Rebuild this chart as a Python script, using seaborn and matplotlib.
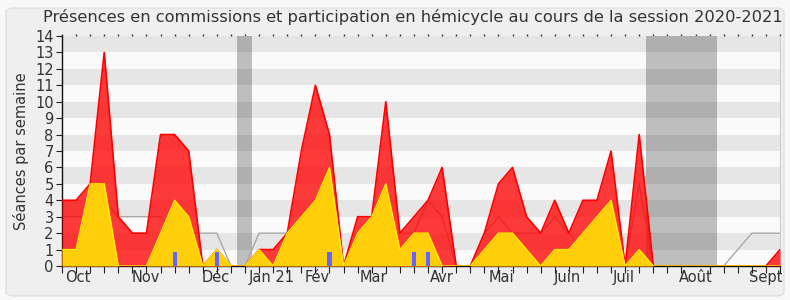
import matplotlib
matplotlib.use("Agg")
import matplotlib.pyplot as plt
import seaborn as sns
import numpy as np
from matplotlib.patches import FancyBboxPatch

# ---- data (one value per week, session 2020-2021) ----
weeks = list(range(52))
commission = [4, 4, 5, 13, 3, 2, 2, 8, 8, 7,
              0, 1, 0, 0, 1, 1, 2, 7, 11, 8,
              0, 3, 3, 10, 2, 3, 4, 6, 0, 0,
              2, 5, 6, 3, 2, 4, 2, 4, 4, 7,
              0, 8, 0, 0, 0, 0, 0, 0, 0, 0, 0, 1]
hemicycle = [1, 1, 5, 5, 0, 0, 0, 2, 4, 3,
             0, 1, 0, 0, 1, 0, 2, 3, 4, 6,
             0, 2, 3, 5, 1, 2, 2, 0, 0, 0,
             1, 2, 2, 1, 0, 1, 1, 2, 3, 4,
             0, 1, 0, 0, 0, 0, 0, 0, 0, 0, 0, 0]
mediane = [3, 3, 3, 4, 3, 3, 3, 3, 2, 2,
           2, 2, 0, 0, 2, 2, 2, 3, 4, 3,
           0, 2, 3, 2, 2, 2, 4, 3, 0, 0,
           2, 3, 2, 2, 2, 3, 2, 1, 2, 2,
           0, 5, 0, 0, 0, 0, 0, 0, 1, 2, 2, 2]
questions = [0] * 52
for w in (8, 11, 19, 25, 26):
    questions[w] = 1
month_labels = ["Oct", "Nov", "Déc", "Jan 21", "Fév", "Mar", "Avr",
                "Mai", "Juin", "Juil", "Août", "Sept"]
month_ticks = [1.1, 5.95, 10.95, 14.9, 18.1, 22.15, 26.95,
               31.2, 35.9, 39.9, 45.0, 49.95]
vacances = [(12.45, 13.5), (41.5, 46.5)]

sns.set_style("white")
plt.rcParams["font.family"] = ["DejaVu Sans"]

fig = plt.figure(figsize=(7.9, 3.0), dpi=100, facecolor="#f8f8f8")
fig.patches.append(FancyBboxPatch((6 / 790, 4 / 300), 778 / 790, 288 / 300,
                                  boxstyle="round,pad=0,rounding_size=0.012",
                                  transform=fig.transFigure, facecolor="#efefef",
                                  edgecolor="#e2e2e2", lw=1, zorder=-10))
ax = fig.add_axes([62 / 790, 34 / 300, 718 / 790, 230 / 300])
ax.set_facecolor("#fafafa")

for a, b in vacances:
    ax.axvspan(a, b, color="#bebebe", lw=0, zorder=0.5)
for k in range(1, 14, 2):
    ax.axhspan(k, k + 1, color="black", alpha=0.08, lw=0, zorder=0.6)

sns.lineplot(x=weeks, y=mediane, color="#a9a9a9", lw=1, ax=ax, zorder=2)
ax.fill_between(weeks, commission, color="#ff0000", alpha=0.77, lw=0, zorder=3)
sns.lineplot(x=weeks, y=commission, color="#ff0000", lw=1.2, ax=ax, zorder=3.1)
ax.fill_between(weeks, hemicycle, color="#ffd40a", alpha=0.97, lw=0, zorder=4)
sns.lineplot(x=weeks, y=hemicycle, color="#ffee00", lw=1, ax=ax, zorder=4.1)
ax.bar(weeks, np.array(questions) * 0.88, width=0.3, color="#6464ff",
       lw=0, zorder=5)

ax.set_xlim(0, 51)
ax.set_ylim(0, 14)
ax.set_yticks(range(15))
ax.tick_params(axis="y", which="major", length=4, width=0.8, color="#222",
               labelsize=10.5, labelcolor="#333", pad=2, left=True)
ax.set_xticks(month_ticks)
ax.set_xticklabels(month_labels)
ax.set_xticks(weeks, minor=True)
ax.tick_params(axis="x", which="major", length=0, labelsize=10.5,
               labelcolor="#333", pad=3)
ax.tick_params(axis="x", which="minor", length=5, width=0.8, color="#222",
               bottom=True, top=False, direction="out")

sec = ax.secondary_xaxis("top")
sec.set_xticks(weeks)
sec.set_xticklabels([])
sec.tick_params(length=1.5, width=1, color="#333", direction="out")
sec.spines["top"].set_visible(False)

for s in ("left", "bottom"):
    ax.spines[s].set_color("#111")
    ax.spines[s].set_linewidth(1)
ax.spines["top"].set_visible(False)
ax.spines["right"].set_color("#cccccc")
ax.spines["right"].set_linewidth(0.8)

ax.set_ylabel("Séances par semaine", fontsize=10.5, color="#333", labelpad=4)
ax.set_xlabel("")
fig.text(413 / 790, 0.943,
         "Présences en commissions et participation en hémicycle au cours de la session 2020-2021",
         ha="center", va="center", fontsize=11.7, color="#333")

fig.savefig("out.png", dpi=100, facecolor=fig.get_facecolor())
